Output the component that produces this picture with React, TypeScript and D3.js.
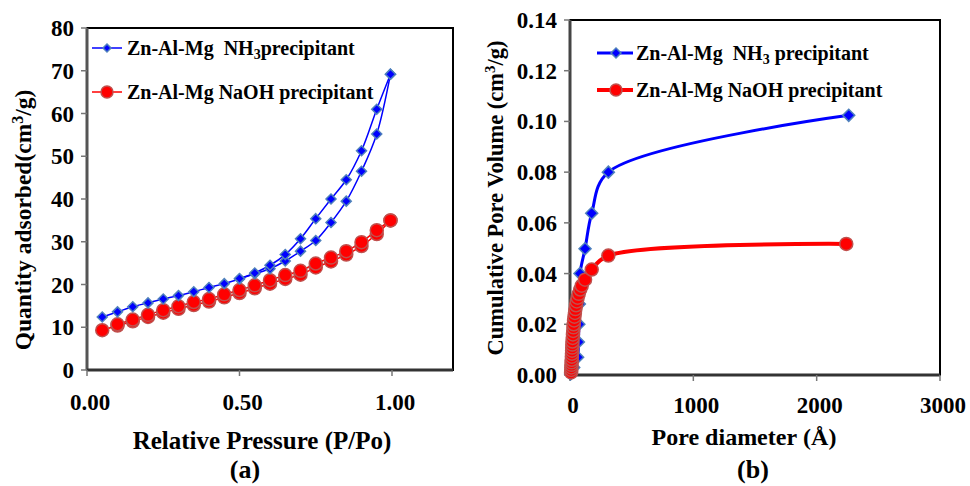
import React from "react";
import * as d3 from "d3";

// ---- Data: (a) N2 isotherms ----
const pAds = [0.05, 0.1, 0.15, 0.2, 0.25, 0.3, 0.35, 0.4, 0.45, 0.5, 0.55, 0.6, 0.65, 0.7, 0.75, 0.8, 0.85, 0.9, 0.95, 0.995];
const nh3Ads = [12.4, 13.6, 14.8, 15.7, 16.6, 17.4, 18.3, 19.3, 20.2, 21.3, 22.5, 23.7, 25.5, 27.8, 30.3, 34.5, 39.5, 46.5, 55.2, 69.2];
const pDes = [0.995, 0.95, 0.9, 0.85, 0.8, 0.75, 0.7, 0.65, 0.6, 0.55, 0.5];
const nh3Des = [69.2, 61.0, 51.3, 44.5, 40.0, 35.4, 30.7, 27.0, 24.5, 22.7, 21.4];
const naohAds = [9.3, 10.4, 11.4, 12.4, 13.4, 14.3, 15.2, 16.0, 17.0, 18.0, 19.1, 20.2, 21.3, 22.3, 24.0, 25.4, 27.0, 29.0, 31.8, 35.0];
const pDesNa = [0.995, 0.95, 0.9, 0.85, 0.8, 0.75, 0.7, 0.65, 0.6, 0.55, 0.5, 0.45, 0.4, 0.35, 0.3, 0.25, 0.2, 0.15, 0.1];
const naohDes = [35.0, 32.7, 29.9, 27.8, 26.3, 24.9, 23.2, 22.2, 21.0, 19.8, 18.7, 17.7, 16.6, 15.9, 14.9, 14.0, 12.9, 11.8, 10.7];

// ---- Data: (b) cumulative pore volume ----
const dNH3 = [5, 30, 62, 68, 72, 76, 81, 122, 176, 311, 2260];
const vNH3 = [0.0004, 0.003, 0.007, 0.013, 0.020, 0.028, 0.040, 0.0498, 0.0638, 0.080, 0.1024];
const dNaOH = [9, 10, 11, 12, 13, 14, 15, 16, 17, 18, 19, 20, 22, 24, 26, 28, 30, 33, 36, 40, 44, 49, 55, 62, 71, 83, 95, 122, 176, 311, 2240];
const vNaOH = [0.001, 0.002, 0.003, 0.004, 0.005, 0.006, 0.0072, 0.0084, 0.0096, 0.0108, 0.012, 0.0132, 0.0146, 0.016, 0.0174, 0.0188, 0.020, 0.0215, 0.023, 0.0245, 0.026, 0.0275, 0.029, 0.0305, 0.032, 0.0337, 0.0352, 0.0376, 0.0416, 0.0471, 0.0517];

const xTicksA = [0, 0.5, 1.0];
const yTicksA = [0, 10, 20, 30, 40, 50, 60, 70, 80];
const xTicksB = [0, 1000, 2000, 3000];
const yTicksB = [0, 0.02, 0.04, 0.06, 0.08, 0.1, 0.12, 0.14];

const FONT = "'Liberation Serif', 'Times New Roman', serif";
const BLUE = "#0000ff";
const BLUE_EDGE = "#4f81bd";
const RED = "#ff0000";
const RED_EDGE = "#c0504d";

function Diamond({ x, y, s }: { x: number; y: number; s: number }) {
  return (
    <path
      d={`M${x},${y - s}L${x + s},${y}L${x},${y + s}L${x - s},${y}Z`}
      fill={BLUE}
      stroke={BLUE_EDGE}
      strokeWidth={1.5}
    />
  );
}

function Dot({ x, y, r }: { x: number; y: number; r: number }) {
  return <circle cx={x} cy={y} r={r} fill={RED} stroke={RED_EDGE} strokeWidth={1.5} />;
}

export default function App() {
  // Panel (a)
  const xa = d3.scaleLinear().domain([0, 1.2]).range([87, 453]);
  const ya = d3.scaleLinear().domain([0, 80]).range([370, 28]);
  const lineA = d3
    .line<[number, number]>()
    .x((d) => xa(d[0]))
    .y((d) => ya(d[1]))
    .curve(d3.curveCatmullRom);
  const nh3AdsPts: [number, number][] = pAds.map((p, i) => [p, nh3Ads[i]]);
  const nh3DesPts: [number, number][] = pDes.map((p, i) => [p, nh3Des[i]]);
  const naAdsPts: [number, number][] = pAds.map((p, i) => [p, naohAds[i]]);
  const naDesPts: [number, number][] = pDesNa.map((p, i) => [p, naohDes[i]]);

  // Panel (b)
  const xb = d3.scaleLinear().domain([0, 3000]).range([570, 940]);
  const yb = d3.scaleLinear().domain([0, 0.14]).range([375, 20]);
  const lineB = d3
    .line<[number, number]>()
    .x((d) => xb(d[0]))
    .y((d) => yb(d[1]))
    .curve(d3.curveCatmullRom.alpha(0.5));
  const nh3B: [number, number][] = dNH3.map((d, i) => [d, vNH3[i]]);
  const naB: [number, number][] = dNaOH.map((d, i) => [d, vNaOH[i]]);

  const fmt2 = d3.format(".2f");

  return (
    <svg
      width={970}
      height={486}
      style={{ position: "absolute", left: 0, top: 0, background: "#fff" }}
      fontFamily={FONT}
      fontWeight="bold"
    >
      <rect x={0} y={0} width={970} height={486} fill="#fff" />

      {/* ================= Panel (a) ================= */}
      <rect x={xa(0)} y={ya(80)} width={xa(1.2) - xa(0)} height={ya(0) - ya(80)} fill="none" stroke="#000" strokeWidth={2} />
      <line x1={xa(0)} x2={xa(0)} y1={ya(80)} y2={ya(0)} stroke="#555" strokeWidth={3} />
      <line x1={xa(0)} x2={xa(1.2)} y1={ya(0)} y2={ya(0)} stroke="#333" strokeWidth={3} />
      {yTicksA.map((t) => (
        <g key={"ya" + t}>
          <line x1={xa(0) - 6} x2={xa(0)} y1={ya(t)} y2={ya(t)} stroke="#777" strokeWidth={1.5} />
          <text x={74} y={ya(t)} dy="0.35em" textAnchor="end" fontSize={23}>
            {t}
          </text>
        </g>
      ))}
      {xTicksA.map((t) => (
        <g key={"xa" + t}>
          <line x1={xa(t)} x2={xa(t)} y1={ya(0)} y2={ya(0) + 6} stroke="#777" strokeWidth={1.5} />
          <text x={xa(t) + 3} y={402} dy="0.35em" textAnchor="middle" fontSize={23}>
            {fmt2(t)}
          </text>
        </g>
      ))}
      <text x={262} y={440} dy="0.35em" textAnchor="middle" fontSize={25}>
        Relative Pressure (P/Po)
      </text>
      <text x={245} y={469} dy="0.35em" textAnchor="middle" fontSize={26}>
        (a)
      </text>
      <text transform="translate(23,220) rotate(-90)" textAnchor="middle" dy="0.35em" fontSize={23.5}>
        Quantity adsorbed(cm
        <tspan fontSize={16} dy={-8}>3</tspan>
        <tspan dy={8}>/g)</tspan>
      </text>

      {/* NaOH series (a) */}
      <path d={lineA(naAdsPts) || ""} fill="none" stroke={RED} strokeWidth={1.5} />
      <path d={lineA(naDesPts) || ""} fill="none" stroke={RED} strokeWidth={1.5} />
      {naAdsPts.map((d, i) => (
        <Dot key={"naa" + i} x={xa(d[0])} y={ya(d[1])} r={6.5} />
      ))}
      {naDesPts.map((d, i) => (
        <Dot key={"nad" + i} x={xa(d[0])} y={ya(d[1])} r={6.5} />
      ))}
      {/* NH3 series (a) */}
      <path d={lineA(nh3AdsPts) || ""} fill="none" stroke={BLUE} strokeWidth={1.5} />
      <path d={lineA(nh3DesPts) || ""} fill="none" stroke={BLUE} strokeWidth={1.5} />
      {nh3AdsPts.map((d, i) => (
        <Diamond key={"nha" + i} x={xa(d[0])} y={ya(d[1])} s={5} />
      ))}
      {nh3DesPts.map((d, i) => (
        <Diamond key={"nhd" + i} x={xa(d[0])} y={ya(d[1])} s={5} />
      ))}

      {/* Legend (a) */}
      <line x1={92} x2={122} y1={48} y2={48} stroke={BLUE} strokeWidth={1.5} />
      <Diamond x={107} y={48} s={4} />
      <text x={127} y={48} dy="0.35em" fontSize={20}>
        Zn-Al-Mg{"\u00A0\u00A0"}NH
        <tspan fontSize={14} dy={4}>3</tspan>
        <tspan dy={-4}>precipitant</tspan>
      </text>
      <line x1={92} x2={122} y1={92} y2={92} stroke={RED} strokeWidth={1.5} />
      <Dot x={107} y={92} r={6} />
      <text x={127} y={92} dy="0.35em" fontSize={20}>
        Zn-Al-Mg NaOH precipitant
      </text>

      {/* ================= Panel (b) ================= */}
      <rect x={xb(0)} y={yb(0.14)} width={xb(3000) - xb(0)} height={yb(0) - yb(0.14)} fill="none" stroke="#000" strokeWidth={2} />
      <line x1={xb(0)} x2={xb(0)} y1={yb(0.14)} y2={yb(0)} stroke="#444" strokeWidth={3} />
      <line x1={xb(0)} x2={xb(3000)} y1={yb(0)} y2={yb(0)} stroke="#333" strokeWidth={3} />
      {yTicksB.map((t) => (
        <g key={"yb" + t}>
          <line x1={xb(0) - 6} x2={xb(0)} y1={yb(t)} y2={yb(t)} stroke="#777" strokeWidth={1.5} />
          <text x={557} y={yb(t)} dy="0.35em" textAnchor="end" fontSize={23}>
            {fmt2(t)}
          </text>
        </g>
      ))}
      {xTicksB.map((t) => (
        <g key={"xb" + t}>
          <line x1={xb(t)} x2={xb(t)} y1={yb(0)} y2={yb(0) + 6} stroke="#777" strokeWidth={1.5} />
          <text x={xb(t) + 3} y={405} dy="0.35em" textAnchor="middle" fontSize={23}>
            {t}
          </text>
        </g>
      ))}
      <text x={744} y={437} dy="0.35em" textAnchor="middle" fontSize={24}>
        Pore diameter{"\u00A0"}(Å)
      </text>
      <text x={753} y={469} dy="0.35em" textAnchor="middle" fontSize={26}>
        (b)
      </text>
      <text transform="translate(495,198) rotate(-90)" textAnchor="middle" dy="0.35em" fontSize={22.5}>
        Cumulative Pore Volume (cm
        <tspan fontSize={15} dy={-8}>3</tspan>
        <tspan dy={8}>/g)</tspan>
      </text>

      {/* NH3 series (b) */}
      <path d={lineB(nh3B) || ""} fill="none" stroke={BLUE} strokeWidth={3} />
      {nh3B.map((d, i) => (
        <Diamond key={"nb" + i} x={xb(d[0])} y={yb(d[1])} s={6} />
      ))}
      {/* NaOH series (b) */}
      <path d={lineB(naB) || ""} fill="none" stroke={RED} strokeWidth={4} />
      {naB.map((d, i) => (
        <Dot key={"rb" + i} x={xb(d[0])} y={yb(d[1])} r={6.5} />
      ))}

      {/* Legend (b) */}
      <line x1={597} x2={633} y1={53} y2={53} stroke={BLUE} strokeWidth={3} />
      <Diamond x={616} y={53} s={5} />
      <text x={636} y={53} dy="0.35em" fontSize={20}>
        Zn-Al-Mg{"\u00A0\u00A0"}NH
        <tspan fontSize={14} dy={4}>3</tspan>
        <tspan dy={-4}> precipitant</tspan>
      </text>
      <line x1={597} x2={633} y1={90} y2={90} stroke={RED} strokeWidth={4} />
      <Dot x={616} y={90} r={6} />
      <text x={636} y={90} dy="0.35em" fontSize={20}>
        Zn-Al-Mg NaOH precipitant
      </text>
    </svg>
  );
}
